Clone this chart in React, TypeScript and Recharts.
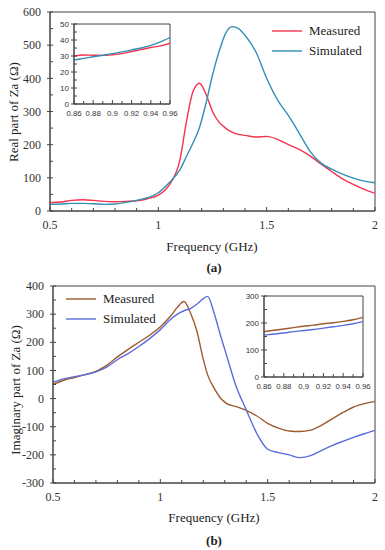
import { LineChart, Line, XAxis, YAxis, ReferenceArea } from 'recharts';

// (a) real part of Za, 0.5 - 2 GHz
const realFreq = [0.5, 0.55, 0.6, 0.65, 0.7, 0.75, 0.8, 0.85, 0.9, 0.95, 1.0, 1.05, 1.1, 1.13, 1.16, 1.19, 1.22, 1.25, 1.28, 1.31, 1.34, 1.37, 1.4, 1.45, 1.5, 1.55, 1.6, 1.65, 1.7, 1.75, 1.8, 1.85, 1.9, 1.95, 2.0];
const realMeasured = [25, 27, 32, 34, 32, 29, 28, 29, 31, 37, 48, 78, 155, 270, 360, 385, 352, 300, 268, 250, 238, 231, 228, 223, 225, 216, 200, 186, 166, 142, 119, 97, 80, 65, 53];
const realSimulated = [20, 21, 23, 23, 22, 20, 21, 26, 32, 40, 55, 85, 125, 165, 205, 252, 325, 410, 480, 535, 556, 550, 530, 480, 400, 335, 288, 235, 180, 145, 126, 111, 99, 90, 85];

// (b) imaginary part of Za
const imagFreq = [0.5, 0.55, 0.6, 0.65, 0.7, 0.75, 0.8, 0.85, 0.9, 0.95, 1.0, 1.05, 1.08, 1.11, 1.14, 1.17, 1.2, 1.22, 1.25, 1.28, 1.31, 1.35, 1.4, 1.45, 1.5, 1.55, 1.6, 1.65, 1.7, 1.75, 1.8, 1.85, 1.9, 1.95, 2.0];
const imagMeasured = [50, 65, 75, 85, 97, 118, 148, 175, 200, 225, 255, 295, 325, 345, 305, 240, 140, 85, 38, 2, -18, -28, -42, -62, -88, -105, -115, -117, -112, -95, -72, -50, -30, -18, -10];
const imagSimulated = [58, 70, 78, 85, 95, 112, 138, 160, 185, 213, 245, 283, 300, 312, 320, 335, 355, 363, 305, 225, 150, 50, -40, -125, -180, -192, -200, -210, -203, -185, -167, -152, -138, -125, -113];

// zoomed insets, 0.86 - 0.96 GHz
const insetFreq = [0.86, 0.87, 0.88, 0.89, 0.9, 0.91, 0.92, 0.93, 0.94, 0.95, 0.96];
const realInsetMeasured = [30, 30.6, 30.5, 30.4, 30.8, 31.5, 32.8, 34, 35.3, 36.3, 38];
const realInsetSimulated = [27.5, 28.5, 29.5, 30.5, 31.5, 32.6, 33.8, 35, 36.6, 38.8, 41.5];
const imagInsetMeasured = [168, 173, 178, 183, 188, 192, 197, 201, 206, 212, 221];
const imagInsetSimulated = [155, 159, 163, 168, 172, 176, 181, 186, 191, 197, 205];

const mainXTicks = [0.5, 0.6, 0.7, 0.8, 0.9, 1, 1.1, 1.2, 1.3, 1.4, 1.5, 1.6, 1.7, 1.8, 1.9, 2];
const realYTicks = [0, 50, 100, 150, 200, 250, 300, 350, 400, 450, 500, 550, 600];
const imagYTicks = [-300, -250, -200, -150, -100, -50, 0, 50, 100, 150, 200, 250, 300, 350, 400];
const insetXTicks = [0.86, 0.87, 0.88, 0.89, 0.9, 0.91, 0.92, 0.93, 0.94, 0.95, 0.96];
const realInsetYTicks = [0, 5, 10, 15, 20, 25, 30, 35, 40, 45, 50];
const imagInsetYTicks = [0, 50, 100, 150, 200, 250, 300];

const serif = 'Liberation Serif, Times New Roman, serif';
const sans = 'Liberation Sans, Arial, sans-serif';
const axisColor = '#444';

const toRows = (f: number[], m: number[], s: number[]) =>
  f.map((x, i) => ({ f: x, measured: m[i], simulated: s[i] }));

const isMultiple = (v: number, step: number) =>
  Math.abs(v / step - Math.round(v / step)) < 1e-6;

const makeXTick = (step: number, fontSize: number, font: string, dy: number) => (props: any) => {
  const { x, y, payload } = props;
  const major = isMultiple(payload.value, step);
  return (
    <g>
      <line x1={x} x2={x} y1={y} y2={y - (major ? 4 : 3)} stroke={axisColor} />
      {major && (
        <text x={x} y={y + dy} textAnchor='middle' fontSize={fontSize} fontFamily={font} fill='#333'>
          {String(payload.value)}
        </text>
      )}
    </g>
  );
};

const makeYTick = (step: number, fontSize: number, font: string, gap: number) => (props: any) => {
  const { x, y, payload } = props;
  const major = isMultiple(payload.value, step);
  return (
    <g>
      <line x1={major ? x - 3 : x} x2={x + 3} y1={y} y2={y} stroke={axisColor} />
      {major && (
        <text x={x - gap} y={y} dy='0.35em' textAnchor='end' fontSize={fontSize} fontFamily={font} fill='#333'>
          {String(payload.value)}
        </text>
      )}
    </g>
  );
};

const LegendBox = ({ left, top, items }: any) => (
  <div style={{ position: 'absolute', left, top, fontFamily: serif, fontSize: 13, color: '#222' }}>
    {items.map((it: any) => (
      <div key={it.name} style={{ display: 'flex', alignItems: 'center', height: 20 }}>
        <svg width={30} height={20}>
          <line x1={0} x2={30} y1={10} y2={10} stroke={it.color} strokeWidth={1.4} />
        </svg>
        <span style={{ marginLeft: 7 }}>{it.name}</span>
      </div>
    ))}
  </div>
);

const Title = ({ x, y, text, rotate, bold }: any) => (
  <div
    style={{
      position: 'absolute',
      left: x,
      top: y,
      transform: `translate(-50%, -50%)${rotate ? ' rotate(-90deg)' : ''}`,
      whiteSpace: 'nowrap',
      fontFamily: serif,
      fontSize: 13,
      fontWeight: bold ? 'bold' : 'normal',
      color: '#222',
      lineHeight: '15px',
    }}
  >
    {text}
  </div>
);

const MainChart = ({ data, top, height, yTicks, yDomain, yWidth, xHeight, marginTop, colors }: any) => (
  <div style={{ position: 'absolute', left: 0, top }}>
    <LineChart width={385} height={height} data={data} margin={{ top: marginTop, right: 10, left: 0, bottom: 0 }}>
      <XAxis
        type='number'
        dataKey='f'
        domain={[0.5, 2]}
        ticks={mainXTicks}
        interval={0}
        tickLine={false}
        tickSize={0}
        tickMargin={0}
        height={xHeight}
        axisLine={{ stroke: axisColor }}
        tick={makeXTick(0.5, 12, serif, 18)}
        allowDataOverflow
      />
      <YAxis
        type='number'
        domain={yDomain}
        ticks={yTicks}
        interval={0}
        tickLine={false}
        tickSize={0}
        tickMargin={0}
        width={yWidth}
        axisLine={{ stroke: axisColor }}
        tick={makeYTick(100, 12, serif, 9)}
        allowDataOverflow
      />
      <ReferenceArea x1={0.5} x2={2} y1={yDomain[0]} y2={yDomain[1]} fill='none' stroke={axisColor} />
      <Line type='monotone' dataKey='measured' name='Measured' stroke={colors[0]} strokeWidth={1.4} dot={false} isAnimationActive={false} />
      <Line type='monotone' dataKey='simulated' name='Simulated' stroke={colors[1]} strokeWidth={1.4} dot={false} isAnimationActive={false} />
    </LineChart>
  </div>
);

const InsetChart = ({ data, left, top, width, height, yTicks, yDomain, yStep, colors }: any) => (
  <div style={{ position: 'absolute', left, top }}>
    <LineChart width={width} height={height} data={data} margin={{ top: 10, right: 10, left: 0, bottom: 0 }}>
      <XAxis
        type='number'
        dataKey='f'
        domain={[0.86, 0.96]}
        ticks={insetXTicks}
        interval={0}
        tickLine={false}
        tickSize={0}
        tickMargin={0}
        height={20}
        axisLine={{ stroke: axisColor }}
        tick={makeXTick(0.02, 7.8, sans, 12)}
        allowDataOverflow
      />
      <YAxis
        type='number'
        domain={yDomain}
        ticks={yTicks}
        interval={0}
        tickLine={false}
        tickSize={0}
        tickMargin={0}
        width={34}
        axisLine={{ stroke: axisColor }}
        tick={makeYTick(yStep, 8, sans, 5)}
        allowDataOverflow
      />
      <ReferenceArea x1={0.86} x2={0.96} y1={yDomain[0]} y2={yDomain[1]} fill='none' stroke={axisColor} />
      <Line type='monotone' dataKey='measured' stroke={colors[0]} strokeWidth={1.4} dot={false} isAnimationActive={false} />
      <Line type='monotone' dataKey='simulated' stroke={colors[1]} strokeWidth={1.4} dot={false} isAnimationActive={false} />
    </LineChart>
  </div>
);

const realColors = ['#f5334f', '#3190b3'];
const imagColors = ['#9c5b2e', '#5b6bdc'];

export default function App() {
  const realData = toRows(realFreq, realMeasured, realSimulated);
  const imagData = toRows(imagFreq, imagMeasured, imagSimulated);
  const realInset = toRows(insetFreq, realInsetMeasured, realInsetSimulated);
  const imagInset = toRows(insetFreq, imagInsetMeasured, imagInsetSimulated);

  return (
    <div style={{ position: 'absolute', left: 0, top: 0, width: 385, height: 550, background: '#fff', overflow: 'hidden' }}>
      <MainChart data={realData} top={0} height={270} yTicks={realYTicks} yDomain={[0, 600]} yWidth={50} xHeight={59} marginTop={12} colors={realColors} />
      <InsetChart data={realInset} left={40} top={14} width={140} height={110} yTicks={realInsetYTicks} yDomain={[0, 50]} yStep={10} colors={realColors} />
      <LegendBox left={272} top={21} items={[{ name: 'Measured', color: realColors[0] }, { name: 'Simulated', color: realColors[1] }]} />
      <Title x={13} y={112} text='Real part of Za (Ω)' rotate />
      <Title x={212} y={246} text='Frequency (GHz)' />
      <Title x={214} y={267} text='(a)' bold />

      <MainChart data={imagData} top={270} height={280} yTicks={imagYTicks} yDomain={[-300, 400]} yWidth={53} xHeight={67} marginTop={16} colors={imagColors} />
      <InsetChart data={imagInset} left={230} top={286} width={143} height={111} yTicks={imagInsetYTicks} yDomain={[0, 300]} yStep={100} colors={imagColors} />
      <LegendBox left={66} top={289} items={[{ name: 'Measured', color: imagColors[0] }, { name: 'Simulated', color: imagColors[1] }]} />
      <Title x={15} y={390} text='Imaginary part of Za (Ω)' rotate />
      <Title x={214} y={517} text='Frequency (GHz)' />
      <Title x={214} y={540} text='(b)' bold />
    </div>
  );
}
